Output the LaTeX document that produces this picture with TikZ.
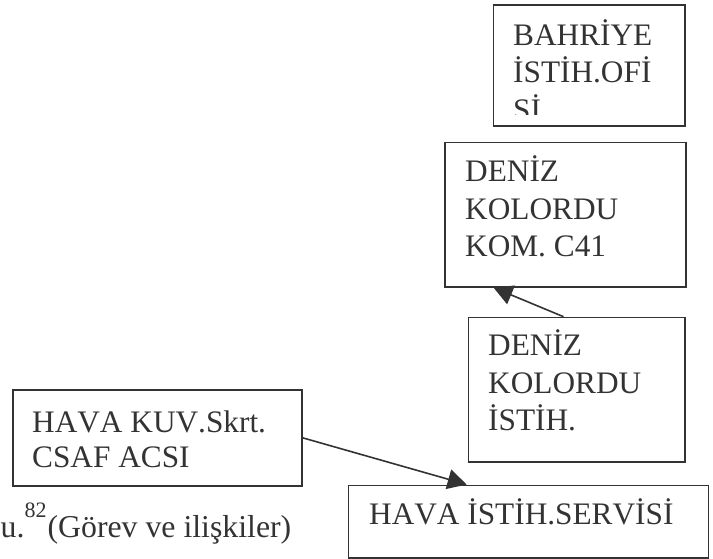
\documentclass[tikz,border=0pt]{standalone}
\usepackage{fontspec}
\setmainfont[Kerning=Off]{Liberation Serif}
\usetikzlibrary{arrows.meta}
\definecolor{ink}{HTML}{333333}
\tikzset{
  box/.style={draw=ink, line width=1.6pt, rectangle, anchor=north west, inner sep=0pt},
  % multi-line labels: the base anchor sits on the last line
  txt/.style={text=ink, inner sep=0pt, anchor=base west, align=left,
              font=\fontsize{31.3}{37.5}\selectfont},
  arr/.style={draw=ink, line width=1.6pt, -{Triangle[length=19pt,width=20pt]}},
}
\newcommand{\fnmark}[1]{\raisebox{20pt}{\fontsize{22}{22}\selectfont #1}\kern1pt}
\begin{document}
\begin{tikzpicture}[x=1pt,y=-1pt]
\useasboundingbox (0,0) rectangle (713,559);

% BAHRIYE office (text runs past the frame and is cut)
\node[box, minimum width=191.3pt, minimum height=121pt] (b1) at (492.7,4) {};
\begin{scope}
  \clip (493.5,5) rectangle (683,115);
  \node[txt] (t1) at (513,120.5) {BAHRİYE\\İSTİH.OFİ\\Sİ};
\end{scope}

% corps command
\node[box, minimum width=241pt, minimum height=144.3pt] (b2) at (444,141.7) {};
\node[txt] (t2) at (465,256.5) {DENİZ\\KOLORDU\\KOM. C41};

% corps intelligence
\node[box, minimum width=216.3pt, minimum height=144.3pt] (b3) at (467.7,316.7) {};
\node[txt] (t3) at (488,430.5) {DENİZ\\KOLORDU\\İSTİH.};

% air intelligence service
\node[box, minimum width=360pt, minimum height=72.5pt] (b4) at (347.5,484.5) {};
\node[txt] (t4) at (369,524.5) {HAVA İSTİH.SERVİSİ};

% air force secretariat
\node[box, minimum width=289pt, minimum height=96pt] (b5) at (12,389) {};
\node[txt, font=\fontsize{31.3}{35}\selectfont] (t5) at (32,467.3) {HAVA KUV.Skrt.\\CSAF ACSI};

% caption fragment
\node[txt, anchor=base east, font=\fontsize{31.8}{36}\selectfont] (cap) at (291.5,537)
  {u.\fnmark{82}(Görev ve ilişkiler)};

% links
\draw[arr] ([xshift=95.8pt]b3.north west) -- ([xshift=49.5pt]b2.south west);
\draw[arr] (b5.east) -- ([xshift=119.2pt]b4.north west);
\end{tikzpicture}
\end{document}
